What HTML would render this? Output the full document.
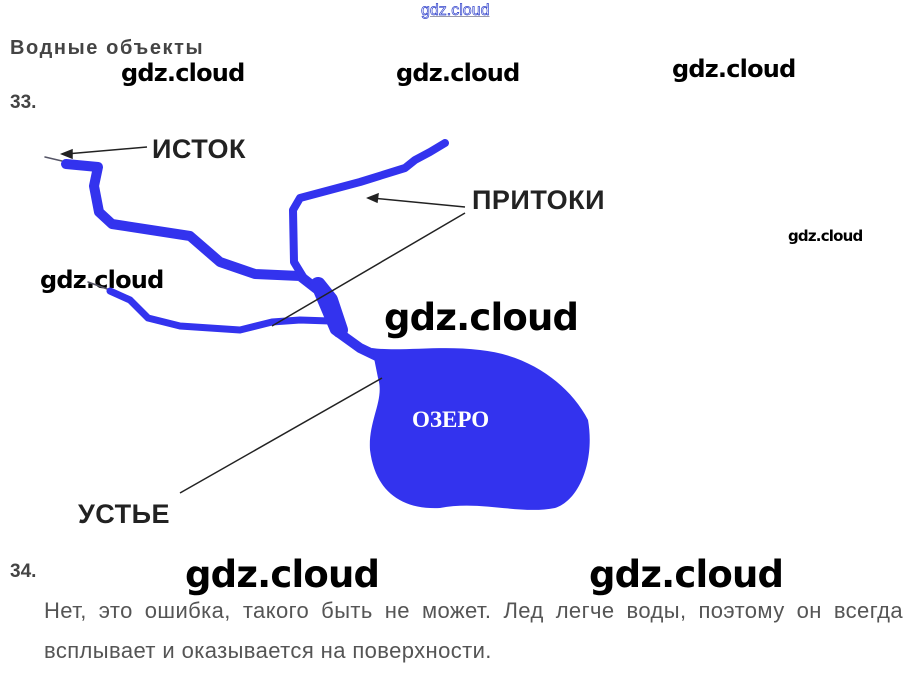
<!DOCTYPE html>
<html><head><meta charset="utf-8"><style>
html,body{margin:0;padding:0;background:#fff;width:916px;height:676px;overflow:hidden;position:relative;font-family:"Liberation Sans",sans-serif}
.t{position:absolute;white-space:nowrap;line-height:1}
.w{font-family:"DejaVu Sans","Liberation Sans",sans-serif;color:#000;font-weight:bold;letter-spacing:-0.8px}
.l{font-size:27px;color:#222;font-weight:bold;letter-spacing:0.5px}
</style></head><body>
<div class="t" style="left:421px;top:3px;font-size:16px;color:#fff;-webkit-text-stroke:0.7px #3344cc;text-decoration:underline;text-decoration-color:#99a">gdz.cloud</div>
<div class="t" style="left:10px;top:38px;font-size:20px;font-weight:bold;color:#444;letter-spacing:1.6px">Водные объекты</div>
<div class="t" style="left:10px;top:93px;font-size:19px;font-weight:bold;color:#444">33.</div>
<div class="t" style="left:10px;top:562px;font-size:19px;font-weight:bold;color:#444">34.</div>
<div class="t w" style="left:121px;top:61px;font-size:24px">gdz.cloud</div>
<div class="t w" style="left:396px;top:61px;font-size:24px">gdz.cloud</div>
<div class="t w" style="left:672px;top:57px;font-size:24px">gdz.cloud</div>
<div class="t w" style="left:788px;top:229px;font-size:15px">gdz.cloud</div>
<div class="t w" style="left:40px;top:268px;font-size:24px">gdz.cloud</div>
<div class="t w" style="left:384px;top:299px;font-size:37px">gdz.cloud</div>
<div class="t w" style="left:185px;top:556px;font-size:37px">gdz.cloud</div>
<div class="t w" style="left:589px;top:556px;font-size:37px">gdz.cloud</div>
<svg width="916" height="676" style="position:absolute;left:0;top:0">
<g fill="none" stroke="#3333ee" stroke-linejoin="round" stroke-linecap="round">
<polyline points="45,157 62,161" stroke="#556" stroke-width="1.5"/>
<polyline points="66,164 98,167 94,186 99,212 112,224 190,236 220,262 255,274 300,276 318,290 335,330 360,348 385,360" stroke-width="10"/>
<polyline points="445,143 430,152 415,160 405,168 360,182 300,198 293,210 294,262 305,280" stroke-width="8"/>
<polyline points="88,282 110,290" stroke="#556" stroke-width="1.5"/>
<polyline points="110,291 130,300 148,318 180,326 240,330 272,322 300,320 330,321" stroke-width="7"/>
<polyline points="318,285 330,300 340,330" stroke-width="16"/>
</g>
<path d="M372,348 C400,352 440,345 480,350 C530,355 570,385 588,420 C595,460 580,500 555,508 C520,515 480,500 440,508 C400,510 375,490 370,450 C368,420 385,400 378,378 Z" fill="#3333ee"/>
<g stroke="#222" stroke-width="1.5" fill="#222">
<line x1="147" y1="147" x2="66" y2="154"/><polygon points="62,154 72,150 72,158"/>
<line x1="465" y1="207" x2="372" y2="198"/><polygon points="368,198 378,194 377,202"/>
<line x1="465" y1="213" x2="272" y2="326"/>
<line x1="180" y1="493" x2="382" y2="378"/>
</g>
<text x="412" y="427" font-family="Liberation Serif,serif" font-weight="bold" font-size="23" fill="#fff">ОЗЕРО</text>
</svg>
<div class="t l" style="left:152px;top:136px">ИСТОК</div>
<div class="t l" style="left:472px;top:187px">ПРИТОКИ</div>
<div class="t l" style="left:78px;top:501px">УСТЬЕ</div>
<div style="position:absolute;left:44px;top:600px;width:859px;font-size:22px;line-height:22px;color:#555;letter-spacing:0.4px;text-align:justify;text-align-last:justify;white-space:nowrap">Нет, это ошибка, такого быть не может. Лед легче воды, поэтому он всегда</div>
<div class="t" style="left:44px;top:640px;font-size:22px;color:#555;letter-spacing:0.4px">всплывает и оказывается на поверхности.</div>
</body></html>
